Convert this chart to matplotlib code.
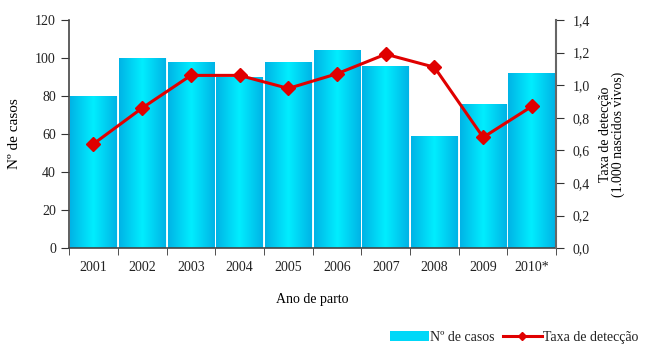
import numpy as np
import matplotlib
matplotlib.use("Agg")
import matplotlib.pyplot as plt
from matplotlib.colors import LinearSegmentedColormap
from matplotlib.lines import Line2D
from matplotlib.patches import Patch

anos = ["2001", "2002", "2003", "2004", "2005", "2006", "2007", "2008", "2009", "2010*"]
casos = [80, 100, 98, 90, 98, 104, 96, 59, 76, 92]
taxa = [0.64, 0.86, 1.06, 1.06, 0.98, 1.07, 1.19, 1.11, 0.68, 0.87]
casos_ticks = [0, 20, 40, 60, 80, 100, 120]
taxa_ticks = [0.0, 0.2, 0.4, 0.6, 0.8, 1.0, 1.2, 1.4]
taxa_ticklabels = ["0,0", "0,2", "0,4", "0,6", "0,8", "1,0", "1,2", "1,4"]

plt.rcParams['font.family'] = ['Liberation Serif', 'DejaVu Serif']
plt.rcParams['font.size'] = 10
plt.rcParams['text.color'] = "#222222"
plt.rcParams['xtick.color'] = "#222222"
plt.rcParams['ytick.color'] = "#222222"

fig = plt.figure(figsize=(6.46, 3.46), dpi=100)
ax = fig.add_axes([0.107, 0.2824, 0.754, 0.66])
x = np.arange(len(anos))

# barras com gradiente horizontal (escuro nas bordas, claro no centro)
grad = LinearSegmentedColormap.from_list("ciano", ["#00b4e6", "#00eeff", "#00b4e6"])
bars = ax.bar(x, casos, width=0.96, color="#00d0f5", edgecolor="white", linewidth=0.6, zorder=2)
g = np.linspace(0, 1, 64).reshape(1, -1)
for b in bars:
    x0, y0 = b.get_x(), b.get_y()
    im = ax.imshow(g, cmap=grad, aspect="auto", zorder=2.5,
                   extent=[x0, x0 + b.get_width(), y0, y0 + b.get_height()])
    im.set_clip_path(b)

ax.set_xlim(-0.5, len(anos) - 0.5)
ax.set_ylim(0, 120)
ax.set_yticks(casos_ticks)
ax.set_xticks(x)
ax.set_xticklabels(anos)
ax.set_xticks(np.arange(-0.5, len(anos)), minor=True)
ax.tick_params(axis="x", which="major", length=0, pad=9)
ax.tick_params(axis="x", which="minor", length=5, color="#333333")
ax.tick_params(axis="y", length=6, direction="out", color="#333333")
ax.set_ylabel("Nº de casos", fontsize=11, labelpad=10)
ax.set_xlabel("Ano de parto", fontsize=10, labelpad=14)
ax.spines["top"].set_visible(False)
ax.spines["right"].set_visible(False)
for s in ["left", "bottom"]:
    ax.spines[s].set_color("#444444")
    ax.spines[s].set_linewidth(1.2)

ax2 = ax.twinx()
ax2.plot(x, taxa, color="#e00000", lw=2.2, marker="D", ms=7, zorder=5)
ax2.set_ylim(0, 1.4)
ax2.set_yticks(taxa_ticks)
ax2.set_yticklabels(taxa_ticklabels)
ax2.tick_params(axis="y", length=6, color="#333333", pad=6)
ax2.set_ylabel("Taxa de detecção\n(1.000 nascidos vivos)", fontsize=10,
               rotation=90, labelpad=6, linespacing=1.0)
ax2.spines["top"].set_visible(False)
ax2.spines["left"].set_visible(False)
ax2.spines["bottom"].set_visible(False)
ax2.spines["right"].set_color("#666666")
ax2.spines["right"].set_linewidth(1.5)

handles = [Patch(facecolor="#00d8f8", edgecolor="none"),
           Line2D([0], [0], color="#e00000", lw=2.2, marker="D", ms=4)]
fig.legend(handles, ["Nº de casos", "Taxa de detecção"], loc="lower right",
           bbox_to_anchor=(1.008, -0.03), ncol=2, frameon=False, fontsize=10,
           handlelength=2.8, handletextpad=0.1, columnspacing=0.6)

fig.savefig("out.png", dpi=100)
